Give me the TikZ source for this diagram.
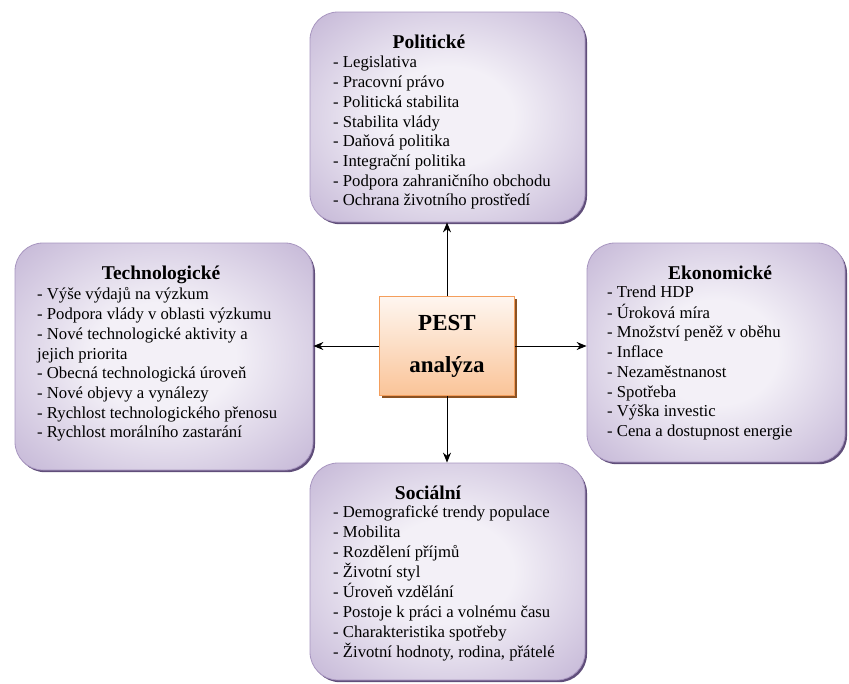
\documentclass[tikz,border=0pt]{standalone}
\usepackage{fontspec}
\setmainfont{Liberation Serif}
\usetikzlibrary{shadows,arrows.meta}

\definecolor{boxlight}{RGB}{243,240,247}
\definecolor{boxdark}{RGB}{156,133,186}
\definecolor{boxline}{RGB}{168,150,192}
\definecolor{boxshadow}{RGB}{96,78,122}
\definecolor{pestlight}{RGB}{254,246,240}
\definecolor{pestdark}{RGB}{250,196,152}
\definecolor{pestline}{RGB}{244,158,92}
\definecolor{pestshadow}{RGB}{140,82,34}

\pgfdeclareradialshading{faktorfade}{\pgfpoint{0bp}{0bp}}{%
  color(0bp)=(boxlight); color(12bp)=(boxlight);
  color(56bp)=(boxdark); color(75bp)=(boxdark)}

\begin{document}
\begin{tikzpicture}[x=1pt,y=-1pt,
    faktor/.style={draw=boxline, line width=0.8pt, rounded corners=28pt,
      shading=faktorfade,
      drop shadow={shadow xshift=2pt, shadow yshift=-2.2pt, fill=boxshadow, opacity=1}},
    pestbox/.style={draw=pestline, line width=0.8pt, top color=pestlight, bottom color=pestdark,
      minimum width=135pt, minimum height=99pt,
      drop shadow={shadow xshift=2pt, shadow yshift=-2.2pt, fill=pestshadow, opacity=1}},
    titulek/.style={inner sep=0pt, font=\bfseries\fontsize{19.5}{23}\selectfont},
    seznam/.style={anchor=north west, inner sep=0pt, font=\fontsize{16.7}{19.7}\selectfont},
    sipka/.style={-{Stealth[length=10pt,width=8pt]}, line width=1pt}]
  \useasboundingbox (0,0) rectangle (849,683);

  % boxes
  \node (pol) [faktor, minimum width=275pt, minimum height=210pt] at (447.5,117) {};
  \node (tech) [faktor, minimum width=298pt, minimum height=227pt] at (164,356.5) {};
  \node (eko) [faktor, minimum width=258pt, minimum height=219pt] at (716,352.5) {};
  \node (soc) [faktor, minimum width=275pt, minimum height=217pt] at (447.5,571.5) {};
  \node (pest) [pestbox] at (447,346) {};
  \node (pestname) [font=\bfseries\fontsize{23}{42}\selectfont, align=center] at (pest) {PEST\\analýza};

  % texts
  \node (poltitle) [titulek] at (429,42) {Politické};
  \node (pollist) [seznam] at (333,54) {\begin{tabular}{@{}l@{}}
    - Legislativa\\
    - Pracovní právo\\
    - Politická stabilita\\
    - Stabilita vlády\\
    - Daňová politika\\
    - Integrační politika\\
    - Podpora zahraničního obchodu\\
    - Ochrana životního prostředí
  \end{tabular}};

  \node (techtitle) [titulek] at (161,275) {Technologické};
  \node (techlist) [seznam] at (37,286) {\begin{tabular}{@{}l@{}}
    - Výše výdajů na výzkum\\
    - Podpora vlády v oblasti výzkumu\\
    - Nové technologické aktivity a\\
    jejich priorita\\
    - Obecná technologická úroveň\\
    - Nové objevy a vynálezy\\
    - Rychlost technologického přenosu\\
    - Rychlost morálního zastarání
  \end{tabular}};

  \node (ekotitle) [titulek] at (720,273) {Ekonomické};
  \node (ekolist) [seznam] at (607,284) {\begin{tabular}{@{}l@{}}
    - Trend HDP\\
    - Úroková míra\\
    - Množství peněž v oběhu\\
    - Inflace\\
    - Nezaměstnanost\\
    - Spotřeba\\
    - Výška investic\\
    - Cena a dostupnost energie
  \end{tabular}};

  \node (soctitle) [titulek] at (428,493) {Sociální};
  \node (soclist) [seznam] at (333,504) {\begin{tabular}{@{}l@{}}
    - Demografické trendy populace\\
    - Mobilita\\
    - Rozdělení příjmů\\
    - Životní styl\\
    - Úroveň vzdělání\\
    - Postoje k práci a volnému času\\
    - Charakteristika spotřeby\\
    - Životní hodnoty, rodina, přátelé
  \end{tabular}};

  % arrows
  \draw[sipka] (pest.north) -- (pest.north |- pol.south);
  \draw[sipka] (pest.south) -- (pest.south |- soc.north);
  \draw[sipka] (pest.west) -- (pest.west -| tech.east);
  \draw[sipka] (pest.east) -- (pest.east -| eko.west);
\end{tikzpicture}
\end{document}
